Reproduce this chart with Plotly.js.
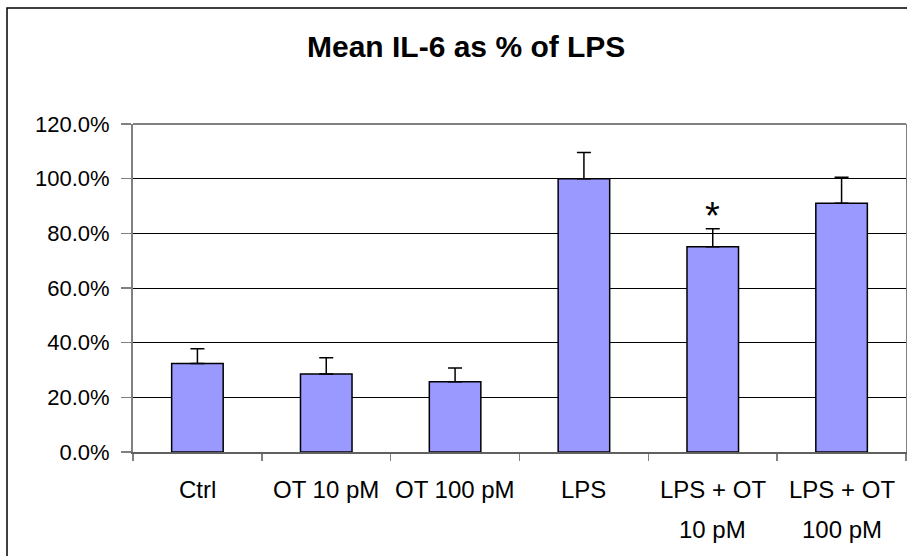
<!DOCTYPE html>
<html>
<head>
<meta charset="utf-8">
<script src="https://cdn.plot.ly/plotly-3.0.1.min.js"></script>
<style>html,body{margin:0;padding:0;background:#fff;}#chart{width:907px;height:556px;}</style>
</head>
<body>
<div id="chart"></div>
<script>
// ---- data ----
const categories = ['Ctrl', 'OT 10 pM', 'OT 100 pM', 'LPS', 'LPS + OT 10 pM', 'LPS + OT 100 pM'];
const labelLine1 = ['Ctrl', 'OT 10 pM', 'OT 100 pM', 'LPS', 'LPS + OT', 'LPS + OT'];
const labelLine2 = ['', '', '', '', '10 pM', '100 pM'];
const meanValues = [0.324, 0.285, 0.257, 1.000, 0.751, 0.910];
const errorPlus = [0.054, 0.060, 0.050, 0.096, 0.066, 0.095];
const errorMinus = [0, 0, 0, 0, 0, 0];
const significant = ['', '', '', '', '*', ''];
const yTickValues = [0, 0.2, 0.4, 0.6, 0.8, 1.0, 1.2];

const font = 'Liberation Sans, Arial, sans-serif';

const trace = {
  type: 'bar',
  x: categories,
  y: meanValues,
  marker: {color: '#9999FF', line: {color: '#000000', width: 1.5}},
  error_y: {type: 'data', symmetric: false, array: errorPlus, arrayminus: errorMinus,
            color: '#000000', thickness: 1.5, width: 7},
  hoverinfo: 'x+y'
};

const annotations = [];
categories.forEach((c, i) => {
  annotations.push({x: c, xref: 'x', y: -0.113, yref: 'paper', text: labelLine1[i],
    showarrow: false, xanchor: 'center', yanchor: 'middle', font: {family: font, size: 24, color: '#000'}});
  if (labelLine2[i]) {
    annotations.push({x: c, xref: 'x', y: -0.235, yref: 'paper', text: labelLine2[i],
      showarrow: false, xanchor: 'center', yanchor: 'middle', font: {family: font, size: 24, color: '#000'}});
  }
  if (significant[i]) {
    annotations.push({x: c, xref: 'x', y: meanValues[i] + errorPlus[i], yref: 'y', text: significant[i],
      showarrow: false, xanchor: 'center', yanchor: 'bottom', yshift: -10, font: {family: font, size: 38, color: '#000'}});
  }
});

const layout = {
  width: 907, height: 556,
  margin: {l: 133, r: 1, t: 124, b: 104, pad: 0},
  paper_bgcolor: '#ffffff', plot_bgcolor: '#ffffff',
  showlegend: false,
  bargap: 0.6,
  title: {text: '<b>Mean IL-6 as % of LPS</b>', font: {family: font, size: 30, color: '#000'},
          xref: 'container', x: 0.514, xanchor: 'center', yref: 'container', y: 0.917, yanchor: 'middle'},
  xaxis: {
    type: 'category', showticklabels: false, ticks: 'outside', tickson: 'boundaries',
    ticklen: 7, tickcolor: '#808080', tickwidth: 1.5,
    showline: true, linecolor: '#606060', linewidth: 1.5, mirror: false,
    showgrid: false, zeroline: false, fixedrange: true
  },
  yaxis: {
    range: [0, 1.2], tickvals: yTickValues, tickformat: '.1%',
    ticks: 'outside', ticklen: 10, tickcolor: '#808080', tickwidth: 1.5,
    ticklabelstandoff: 7,
    tickfont: {family: font, size: 22, color: '#000'},
    showline: true, linecolor: '#808080', linewidth: 2, mirror: true,
    showgrid: true, gridcolor: '#000000', gridwidth: 1,
    zeroline: false, fixedrange: true
  },
  annotations: annotations,
  shapes: [
    {type: 'line', xref: 'paper', yref: 'paper', x0: 0, x1: 1, y0: 1, y1: 1, line: {color: '#808080', width: 2}},
    {type: 'rect', xref: 'paper', yref: 'paper', x0: -0.163, x1: 1.01, y0: -0.34, y1: 1.354,
     line: {color: '#000000', width: 1.5}, fillcolor: 'rgba(0,0,0,0)'}
  ]
};

Plotly.newPlot('chart', [trace], layout, {displayModeBar: false, staticPlot: true});
</script>
</body>
</html>
